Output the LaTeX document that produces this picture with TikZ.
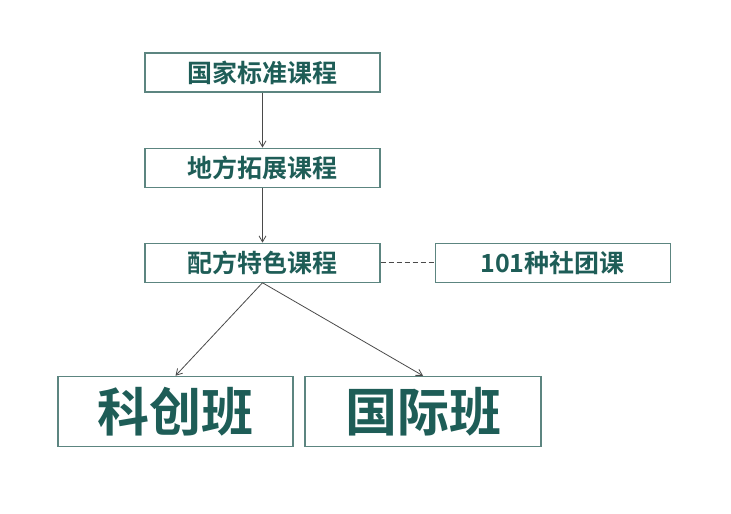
\documentclass[tikz,border=0pt]{standalone}
\usepackage{fontspec}
\usepackage{tikz}
\usetikzlibrary{arrows.meta,positioning}
\newfontfamily\cjk{Noto Sans CJK SC}[BoldFont={* Bold}]
\definecolor{tealtext}{HTML}{1E5D57}
\definecolor{tealline}{HTML}{5C8580}
\definecolor{wire}{HTML}{4A4A4A}

\begin{document}
\begin{tikzpicture}[
      node distance=55pt,
      cbox/.style={rectangle, draw=tealline, line width=1.1pt, fill=white,
                   text=tealtext, minimum width=235pt, minimum height=39pt,
                   inner sep=0pt, font=\cjk\bfseries\fontsize{25}{25}\selectfont},
      bigbox/.style={cbox, minimum height=70pt,
                   font=\cjk\bfseries\fontsize{52}{52}\selectfont},
      arr/.style={-{Straight Barb[length=6pt,width=7pt]}, line width=0.8pt, color=wire},
      link/.style={dashed, line width=0.8pt, color=wire, dash pattern=on 5pt off 3pt}
    ]
      \useasboundingbox (0,0) rectangle (731pt,-514pt);
      \node[cbox] (guojia) at (262.5pt,-72.5pt) {国家标准课程};
      \node[cbox, below=of guojia] (difang) {地方拓展课程};
      \node[cbox, below=of difang] (peifang) {配方特色课程};
      \node[cbox, right=54pt of peifang] (shetuan) {101种社团课};
      \node[bigbox, below=93pt of peifang, xshift=-87pt] (kechuang) {科创班};
      \node[bigbox, below=93pt of peifang, xshift=160.5pt, minimum width=236pt] (guoji) {国际班};
      \draw[arr] (guojia) -- (difang);
      \draw[arr] (difang) -- (peifang);
      \draw[link] (peifang) -- (shetuan);
      \draw[arr] (peifang.south) -- (kechuang.north);
      \draw[arr] (peifang.south) -- (guoji.north);
    \end{tikzpicture}
\end{document}
